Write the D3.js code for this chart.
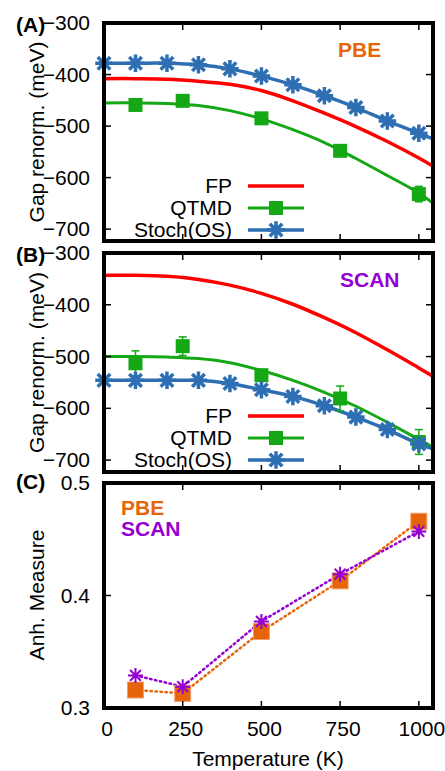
<!DOCTYPE html>
<html>
<head>
<meta charset="utf-8">
<script src="https://cdn.jsdelivr.net/npm/d3@7"></script>
<style>
  body { margin: 0; background: #fff; }
  text { font-family: "Liberation Sans", Arial, sans-serif; }
</style>
</head>
<body>
<svg id="chart" width="445" height="771"></svg>
<script>
// temperatures (K)
const curveT = [0, 100, 200, 300, 400, 500, 600, 700, 800, 900, 1000, 1045];
const stochT = [0, 100, 200, 300, 400, 500, 600, 700, 800, 900, 1000, 1045];
const qtmdT = [100, 250, 500, 750, 1000];
const anhT = [100, 250, 500, 750, 1000];

// panel A (PBE), meV
const fpA = [-408, -408, -409, -413, -419, -431, -451, -475, -501, -530, -562, -578];
const qtmdFitA = [-455, -455, -456, -460, -470, -486, -507, -532, -563, -596, -630, -650];
const qtmdA = [-459, -451, -485, -548, -632];
const qtmdErrA = [3, 8, 4, 5, 15];
const stochA = [-378, -378, -378, -381, -389, -403, -420, -441, -464, -490, -514, -525];

// panel B (SCAN), meV
const fpB = [-343, -343, -345, -351, -362, -378, -399, -425, -454, -487, -522, -538];
const qtmdFitB = [-500, -500, -501, -504, -512, -527, -546, -569, -596, -627, -660, -675];
const qtmdB = [-513, -480, -536, -581, -665];
const qtmdErrB = [24, 18, 6, 24, 24];
const stochB = [-546, -546, -546, -546, -552, -564, -577, -595, -617, -641, -669, -678];

// panel C, anharmonicity measure
const anhPBE = [0.316, 0.313, 0.368, 0.413, 0.466];
const anhSCAN = [0.329, 0.319, 0.377, 0.419, 0.457];

const gapTicks = [-300, -400, -500, -600, -700];
const anhTicks = [0.5, 0.4, 0.3];
const tempTicks = [0, 250, 500, 750, 1000];

const RED = "#ff0000", GREEN = "#14a814", BLUE = "#2e6fb4";
const ORANGE = "#e6650a", PURPLE = "#9400d3";
const FS = 21;

const svg = d3.select("#chart");
const left = 104, right = 433;

const x = d3.scaleLinear().domain([0, 1045]).range([left, right]);

function star(r) {
  const d = r * 0.72;
  return `M${-r},0L${r},0M0,${-r}L0,${r}M${-d},${-d}L${d},${d}M${-d},${d}L${d},${-d}`;
}

function frame(g, y, top, bottom, ticks, fmt) {
  // ticks (inward, mirrored)
  ticks.forEach(t => {
    g.append("line").attr("x1", left).attr("x2", left + 7)
      .attr("y1", y(t)).attr("y2", y(t)).attr("stroke", "#000").attr("stroke-width", 1.5);
    g.append("line").attr("x1", right).attr("x2", right - 7)
      .attr("y1", y(t)).attr("y2", y(t)).attr("stroke", "#000").attr("stroke-width", 1.5);
    g.append("text").attr("x", 90).attr("y", y(t) + 7)
      .attr("text-anchor", "end").attr("font-size", FS).text(fmt(t));
  });
  tempTicks.forEach(t => {
    g.append("line").attr("x1", x(t)).attr("x2", x(t))
      .attr("y1", bottom).attr("y2", bottom - 7).attr("stroke", "#000").attr("stroke-width", 1.5);
    g.append("line").attr("x1", x(t)).attr("x2", x(t))
      .attr("y1", top).attr("y2", top + 7).attr("stroke", "#000").attr("stroke-width", 1.5);
  });
  g.append("rect").attr("x", left).attr("y", top)
    .attr("width", right - left).attr("height", bottom - top)
    .attr("fill", "none").attr("stroke", "#000").attr("stroke-width", 4);
}

function gapPanel(top, bottom, fp, fit, qt, qtErr, st, label, dft, dftColor) {
  const g = svg.append("g");
  const y = d3.scaleLinear().domain([-723, -300]).range([bottom, top]);
  const line = d3.line().x(d => x(d[0])).y(d => y(d[1])).curve(d3.curveCatmullRom);

  const clip = "clip" + label;
  svg.append("clipPath").attr("id", clip).append("rect")
    .attr("x", left).attr("y", top).attr("width", right - left).attr("height", bottom - top);

  const data = g.append("g");
  const lines = data.append("g").attr("clip-path", `url(#${clip})`);

  lines.append("path").datum(d3.zip(curveT, fp)).attr("d", line)
    .attr("fill", "none").attr("stroke", RED).attr("stroke-width", 3.5);
  lines.append("path").datum(d3.zip(curveT, fit)).attr("d", line)
    .attr("fill", "none").attr("stroke", GREEN).attr("stroke-width", 3);
  lines.append("path").datum(d3.zip(stochT, st)).attr("d", line)
    .attr("fill", "none").attr("stroke", BLUE).attr("stroke-width", 3.5);

  // QTMD error bars + squares
  qtmdT.forEach((t, i) => {
    const cx = x(t), y1 = y(qt[i] + qtErr[i]), y2 = y(qt[i] - qtErr[i]);
    data.append("line").attr("x1", cx).attr("x2", cx).attr("y1", y1).attr("y2", y2)
      .attr("stroke", GREEN).attr("stroke-width", 1.5);
    [y1, y2].forEach(yy => data.append("line").attr("x1", cx - 4).attr("x2", cx + 4)
      .attr("y1", yy).attr("y2", yy).attr("stroke", GREEN).attr("stroke-width", 1.5));
    data.append("rect").attr("x", cx - 7).attr("y", y(qt[i]) - 7)
      .attr("width", 14).attr("height", 14).attr("fill", GREEN);
  });

  // Stoch(OS) stars
  stochT.slice(0, 11).forEach((t, i) => {
    data.append("path").attr("transform", `translate(${x(t)},${y(st[i])})`)
      .attr("d", star(7)).attr("stroke", BLUE).attr("stroke-width", 3.5)
      .attr("stroke-linecap", "square").attr("fill", "none");
  });

  frame(g, y, top, bottom, gapTicks, d3.format("d"));

  // legend
  const names = ["FP", "QTMD", "Stoch(OS)"];
  const cols = [RED, GREEN, BLUE];
  names.forEach((n, i) => {
    const ly = top + 163 + i * 22;
    g.append("text").attr("x", 232).attr("y", ly + 7).attr("text-anchor", "end")
      .attr("font-size", FS).text(n);
    g.append("line").attr("x1", 248).attr("x2", 304).attr("y1", ly).attr("y2", ly)
      .attr("stroke", cols[i]).attr("stroke-width", i === 1 ? 3 : 3.5);
    if (i === 1) g.append("rect").attr("x", 269).attr("y", ly - 7)
      .attr("width", 14).attr("height", 14).attr("fill", GREEN);
    if (i === 2) g.append("path").attr("transform", `translate(276,${ly})`)
      .attr("d", star(7)).attr("stroke", BLUE).attr("stroke-width", 3.5)
      .attr("stroke-linecap", "square").attr("fill", "none");
  });

  g.append("text").attr("x", dft === "PBE" ? 338 : 340).attr("y", top + 34)
    .attr("font-size", FS).attr("font-weight", "bold").attr("fill", dftColor).text(dft);

  g.append("text").attr("x", 16).attr("y", top + 9).attr("font-size", FS)
    .attr("font-weight", "bold").text(`(${label})`);

  g.append("text").attr("transform", `translate(44,${(top + bottom) / 2}) rotate(-90)`)
    .attr("text-anchor", "middle").attr("font-size", FS).text("Gap renorm. (meV)");
}

gapPanel(23, 241, fpA, qtmdFitA, qtmdA, qtmdErrA, stochA, "A", "PBE", ORANGE);
gapPanel(253, 472, fpB, qtmdFitB, qtmdB, qtmdErrB, stochB, "B", "SCAN", PURPLE);

// panel C
(function () {
  const top = 483, bottom = 708;
  const g = svg.append("g");
  const y = d3.scaleLinear().domain([0.3, 0.5]).range([bottom, top]);
  const line = d3.line().x(d => x(d[0])).y(d => y(d[1]));

  g.append("path").datum(d3.zip(anhT, anhPBE)).attr("d", line)
    .attr("fill", "none").attr("stroke", ORANGE).attr("stroke-width", 2.5)
    .attr("stroke-dasharray", "1.5,3.5").attr("stroke-linecap", "round");
  g.append("path").datum(d3.zip(anhT, anhSCAN)).attr("d", line)
    .attr("fill", "none").attr("stroke", PURPLE).attr("stroke-width", 2.5)
    .attr("stroke-dasharray", "1.5,3.5").attr("stroke-linecap", "round");

  anhT.forEach((t, i) => {
    g.append("rect").attr("x", x(t) - 8).attr("y", y(anhPBE[i]) - 8)
      .attr("width", 16).attr("height", 16).attr("fill", ORANGE)
      .attr("stroke", "#f0a070").attr("stroke-width", 1);
  });
  anhT.forEach((t, i) => {
    g.append("path").attr("transform", `translate(${x(t)},${y(anhSCAN[i])})`)
      .attr("d", star(7.5)).attr("stroke", PURPLE).attr("stroke-width", 2)
      .attr("fill", "none");
  });

  frame(g, y, top, bottom, anhTicks, d3.format(".1f"));

  tempTicks.forEach(t => {
    g.append("text").attr("x", x(t) + 3).attr("y", 736).attr("text-anchor", "middle")
      .attr("font-size", FS).text(t);
  });
  g.append("text").attr("x", 268).attr("y", 766).attr("text-anchor", "middle")
    .attr("font-size", FS).text("Temperature (K)");

  g.append("text").attr("x", 121).attr("y", 515).attr("font-size", FS)
    .attr("font-weight", "bold").attr("fill", ORANGE).text("PBE");
  g.append("text").attr("x", 121).attr("y", 536).attr("font-size", FS)
    .attr("font-weight", "bold").attr("fill", PURPLE).text("SCAN");

  g.append("text").attr("x", 16).attr("y", top + 6).attr("font-size", FS)
    .attr("font-weight", "bold").text("(C)");

  g.append("text").attr("transform", `translate(44,595) rotate(-90)`)
    .attr("text-anchor", "middle").attr("font-size", FS).text("Anh. Measure");
})();
</script>
</body>
</html>
